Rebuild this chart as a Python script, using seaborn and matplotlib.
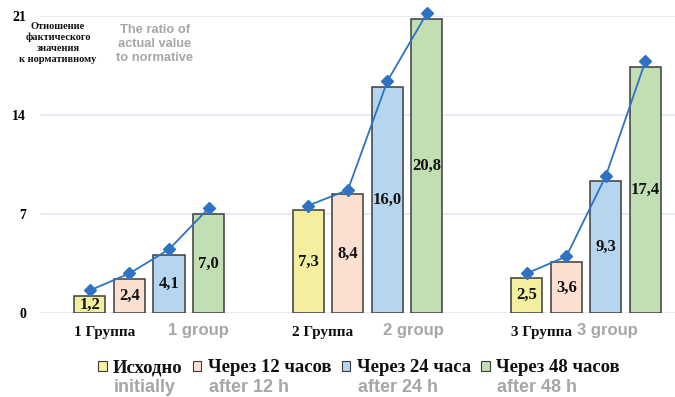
import matplotlib
matplotlib.use("Agg")
import matplotlib.pyplot as plt
import matplotlib.transforms as mtransforms
from matplotlib.patches import Patch
from matplotlib.font_manager import FontProperties
import seaborn as sns
import pandas as pd

# ---- data ----
groups_ru = ["1 Группа", "2 Группа", "3 Группа"]
groups_en = ["1 group", "2 group", "3 group"]
periods_ru = ["Исходно", "Через 12 часов", "Через 24 часа", "Через 48 часов"]
periods_en = ["initially", "after 12 h", "after 24 h", "after 48 h"]
group1 = [1.2, 2.4, 4.1, 7.0]
group2 = [7.3, 8.4, 16.0, 20.8]
group3 = [2.5, 3.6, 9.3, 17.4]
trend1 = [1.6, 2.8, 4.5, 7.4]
trend2 = [7.6, 8.7, 16.4, 21.2]
trend3 = [2.8, 4.0, 9.7, 17.8]
yticks = [0, 7, 14, 21]
ylabel_ru = "Отношение\nфактического\nзначения\nк нормативному"
ylabel_en = "The ratio of\nactual value\nto normative"

colors = ["#F3EF9F", "#FBDFD0", "#B6D5EF", "#C1DFB2"]
edge = "#3c3c3c"
line_color = "#2F72C4"
grey = "#A6A6A6"
serif = "Liberation Serif"
sans = "Liberation Sans"

rows = []
for g, vals in zip(groups_ru, [group1, group2, group3]):
    for p, v in zip(periods_ru, vals):
        rows.append({"group": g, "period": p, "value": v})
df = pd.DataFrame(rows)

W, H = 675, 397
fig = plt.figure(figsize=(W / 100, H / 100), dpi=100)
ax = fig.add_axes([40 / W, 84 / H, 635 / W, 297 / H])

sns.barplot(data=df, x="group", y="value", hue="period", order=groups_ru,
            hue_order=periods_ru, palette=colors, saturation=1, width=0.724,
            gap=0.215, edgecolor=edge, linewidth=1.1, legend=False, ax=ax,
            errorbar=None)

# value labels
for cont in ax.containers:
    labels = [f"{v:.1f}".replace(".", ",") for v in cont.datavalues]
    ax.bar_label(cont, labels=labels, label_type="center",
                 fontfamily=serif, fontweight="bold", fontsize=12, color="#111111")

# trend lines per group (x from bar centres)
for gi, tr in enumerate([trend1, trend2, trend3]):
    xs = []
    for cont in ax.containers:
        p = cont.patches[gi]
        xs.append(p.get_x() + p.get_width() / 2)
    ax.plot(xs, tr, color=line_color, linewidth=1.3, marker="D",
            markersize=6.5, markerfacecolor=line_color, markeredgecolor=line_color,
            clip_on=False, zorder=5)

ax.set_xlim(-0.5, 2.407)
ax.set_ylim(0, 21)
ax.set_yticks(yticks)
ax.set_yticklabels([str(t) for t in yticks], fontfamily=serif,
                   fontweight="bold", fontsize=10)
ax.tick_params(axis="y", length=0, pad=10)
ax.set_xticks([])
ax.set_xlabel("")
ax.set_ylabel("")
for s in ax.spines.values():
    s.set_visible(False)
ax.grid(axis="y", color="#DCE6F2", linewidth=1.1)
ax.set_axisbelow(True)

# category labels
trans = mtransforms.blended_transform_factory(ax.transData, ax.transAxes)
ru_off = [-0.206, -0.206, -0.206]
en_off = [0.227, 0.209, 0.096]
for gi in range(3):
    ax.text(gi + ru_off[gi], -0.064, groups_ru[gi], transform=trans,
            ha="center", va="center", fontfamily=serif, fontweight="bold",
            fontsize=11, color="#111111")
    ax.text(gi + en_off[gi], -0.058, groups_en[gi], transform=trans,
            ha="center", va="center", fontfamily=sans, fontweight="bold",
            fontsize=12, color=grey)

# axis title block
fig.text(58 / W, 1 - 43 / H, ylabel_ru, ha="center", va="center",
         fontfamily=serif, fontweight="bold", fontsize=7.5, linespacing=1.3,
         color="#111111")
fig.text(155 / W, 1 - 44 / H, ylabel_en, ha="center", va="center",
         fontfamily=sans, fontweight="bold", fontsize=9.3, linespacing=1.2,
         color=grey)

# legend
handles = [Patch(facecolor=c, edgecolor=edge, linewidth=0.8) for c in colors]
leg = fig.legend(handles, periods_ru, loc="center",
                 bbox_to_anchor=(359 / W, 1 - 368 / H), ncol=4, frameon=False,
                 prop=FontProperties(family=serif, weight="bold", size=13.5),
                 handlelength=0.45, handleheight=0.45, handletextpad=0.35,
                 columnspacing=0.55, borderpad=0, borderaxespad=0)
for t in leg.get_texts():
    t.set_color("#111111")

fig.canvas.draw()
for t, en in zip(leg.get_texts(), periods_en):
    bb = t.get_window_extent()
    fig.text(bb.x0 / fig.bbox.width + 1 / W, 1 - 388 / H, en, ha="left",
             va="center", fontfamily=sans, fontweight="bold", fontsize=13,
             color=grey)

fig.savefig("out.png", dpi=100)
